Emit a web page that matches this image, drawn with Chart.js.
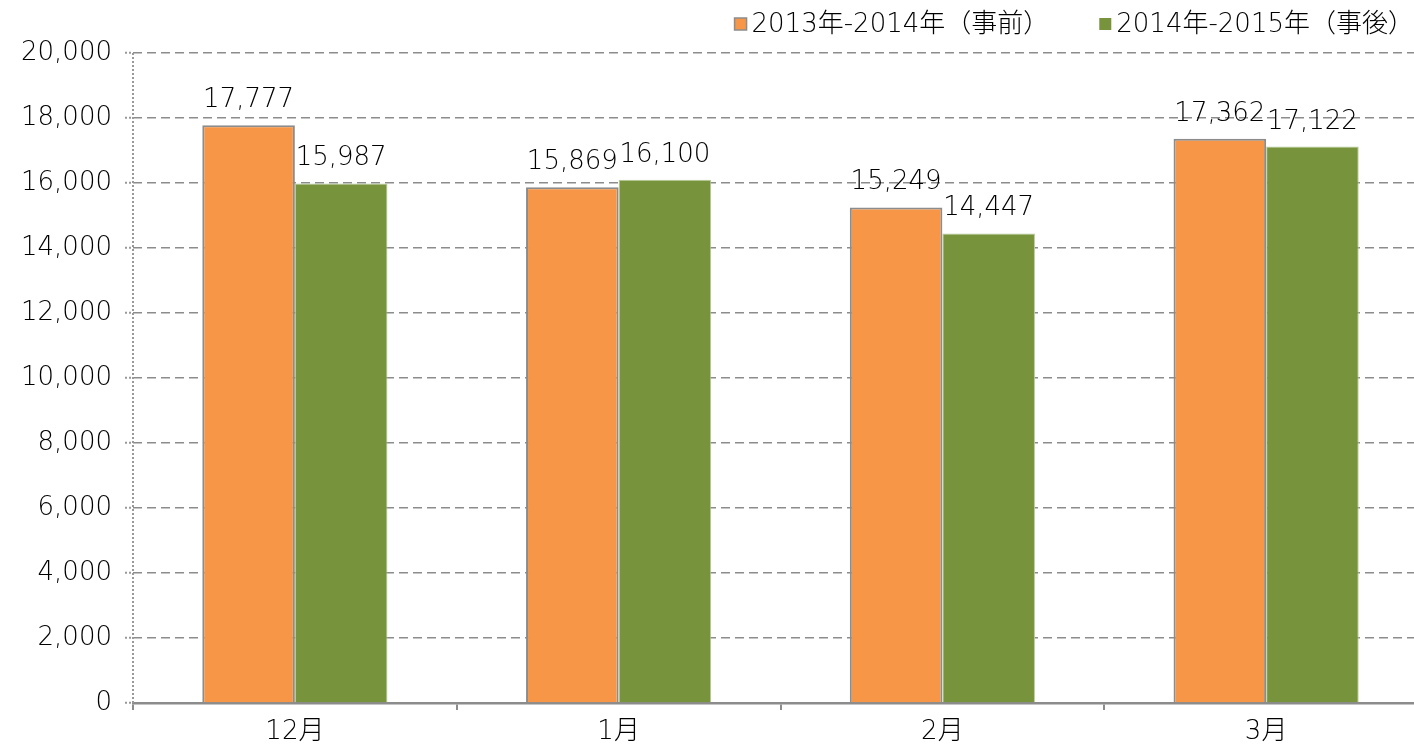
<!DOCTYPE html>
<html>
<head>
<meta charset="utf-8">
<title>月別比較</title>
<script src="https://cdn.jsdelivr.net/npm/chart.js@4/dist/chart.umd.min.js"></script>
<style>
  html, body { margin: 0; padding: 0; background: #fff; overflow: hidden; }
  #wrap { position: relative; width: 1440px; height: 746px; }
</style>
</head>
<body>
<div id="wrap"><canvas id="chart"></canvas></div>
<script>
// Categories and series
const months = ['12月', '1月', '2月', '3月'];
const seriesNames = ['2013年-2014年（事前）', '2014年-2015年（事後）'];
const beforeValues = [17777, 15869, 15249, 17362];
const afterValues = [15987, 16100, 14447, 17122];
const yMin = 0;
const yMax = 20000;
const yStep = 2000;

const FONT = '"DejaVu Sans", "Noto Sans CJK JP", sans-serif';
const FONT_SIZE = 26;
const FONT_WEIGHT = 200;
const ORANGE = '#F79646';
const GREEN = '#77933C';
const GRID = '#8c8c8c';

const fmt = v => Number(v).toLocaleString('en-US');
const cssFont = () => `${FONT_WEIGHT} ${FONT_SIZE}px ${FONT}`;

// Dotted vertical value axis line
const dottedYAxis = {
  id: 'dottedYAxis',
  beforeDatasetsDraw(chart) {
    const { ctx, chartArea } = chart;
    const x = chart.scales.y.right;
    ctx.save();
    ctx.strokeStyle = '#999';
    ctx.lineWidth = 2;
    ctx.setLineDash([2, 2]);
    ctx.beginPath();
    ctx.moveTo(x, chartArea.top);
    ctx.lineTo(x, chartArea.bottom);
    ctx.stroke();
    ctx.restore();
  }
};

// Value labels above each bar
const valueLabels = {
  id: 'valueLabels',
  afterDatasetsDraw(chart) {
    const { ctx } = chart;
    ctx.save();
    ctx.font = cssFont();
    ctx.fillStyle = '#000';
    ctx.textAlign = 'center';
    ctx.textBaseline = 'alphabetic';
    chart.data.datasets.forEach((ds, di) => {
      const meta = chart.getDatasetMeta(di);
      meta.data.forEach((bar, i) => {
        ctx.fillText(fmt(ds.data[i]), bar.x, bar.y - 18);
      });
    });
    ctx.restore();
  }
};

// Legend row, right-aligned above the plot
const topLegend = {
  id: 'topLegend',
  afterDraw(chart) {
    const { ctx, chartArea } = chart;
    ctx.save();
    ctx.font = cssFont();
    ctx.textBaseline = 'middle';
    ctx.textAlign = 'left';
    const cy = 24;
    let xEnd = chartArea.right - 14;
    const ds = chart.data.datasets;
    for (let i = ds.length - 1; i >= 0; i--) {
      const text = ds[i].label;
      const w = ctx.measureText(text).width;
      const tx = xEnd - w;
      const bx = tx - 5 - 12;
      ctx.fillStyle = ds[i].backgroundColor;
      ctx.fillRect(bx, cy - 6, 12, 12);
      if (i === 0) {
        ctx.strokeStyle = GRID;
        ctx.lineWidth = 1.5;
        ctx.strokeRect(bx, cy - 6, 12, 12);
      }
      ctx.fillStyle = '#000';
      ctx.fillText(text, tx, cy + 1);
      xEnd = bx - 50;
    }
    ctx.restore();
  }
};

const tickFont = { family: FONT, size: FONT_SIZE, weight: FONT_WEIGHT };

new Chart(document.getElementById('chart'), {
  type: 'bar',
  data: {
    labels: months,
    datasets: [
      {
        label: seriesNames[0],
        data: beforeValues,
        backgroundColor: ORANGE,
        borderColor: GRID,
        borderWidth: 2,
        categoryPercentage: 0.572,
        barPercentage: 1
      },
      {
        label: seriesNames[1],
        data: afterValues,
        backgroundColor: GREEN,
        borderColor: '#b9cb9b',
        borderWidth: 1,
        categoryPercentage: 0.572,
        barPercentage: 1
      }
    ]
  },
  options: {
    responsive: true,
    maintainAspectRatio: false,
    animation: false,
    layout: { padding: { top: 53, right: 12, left: 0, bottom: 0 } },
    plugins: {
      legend: { display: false },
      tooltip: { enabled: false },
      title: { display: false }
    },
    scales: {
      x: {
        grid: {
          display: true,
          drawOnChartArea: false,
          drawTicks: true,
          tickLength: 7,
          color: GRID,
          lineWidth: 2,
          offset: true
        },
        border: { display: true, color: GRID, width: 2.5 },
        ticks: {
          color: '#000',
          font: tickFont,
          padding: 7,
          maxRotation: 0
        },
        afterFit(scale) { scale.height = 43; }
      },
      y: {
        min: yMin,
        max: yMax,
        grid: {
          color: GRID,
          lineWidth: 1.5,
          drawTicks: true,
          tickLength: 8,
          tickColor: '#999',
          tickWidth: 2,
          tickBorderDash: [2, 2],
          borderDash: [9, 5]
        },
        border: { display: false, dash: [9, 5] },
        ticks: {
          stepSize: yStep,
          color: '#000',
          font: tickFont,
          padding: 13,
          callback: v => fmt(v)
        },
        afterFit(scale) { scale.width = 133; }
      }
    }
  },
  plugins: [dottedYAxis, valueLabels, topLegend]
});
</script>
</body>
</html>
